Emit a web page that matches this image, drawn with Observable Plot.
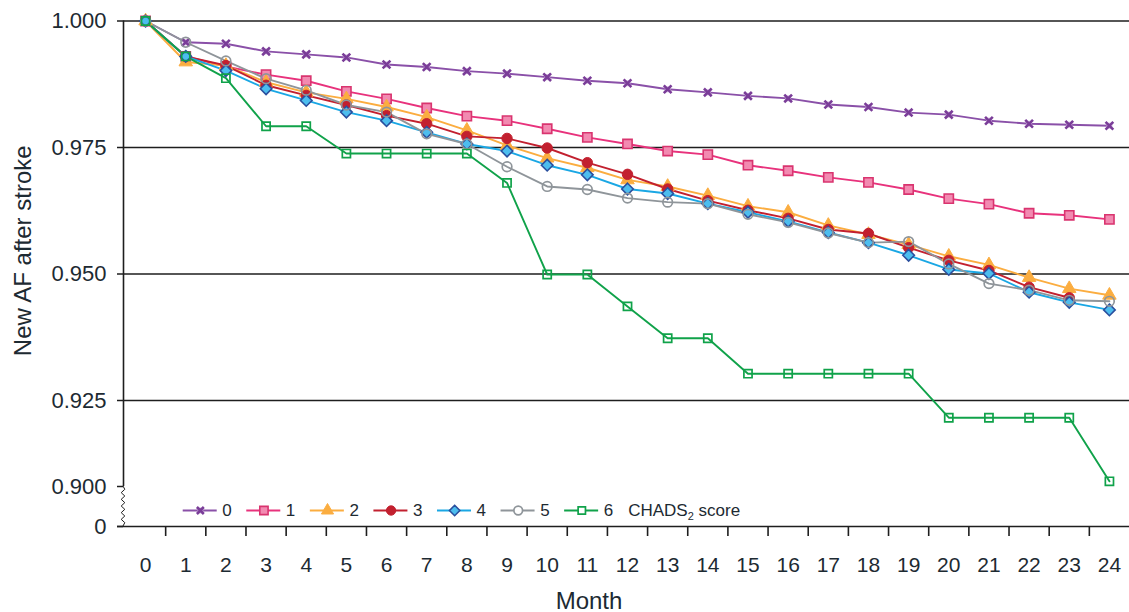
<!DOCTYPE html>
<html>
<head>
<meta charset="utf-8">
<script src="https://cdn.jsdelivr.net/npm/d3@7"></script>
<script src="https://cdn.jsdelivr.net/npm/@observablehq/plot@0.6"></script>
<style>
  body { margin: 0; background: #fff; }
  #chart { position: relative; width: 1129px; height: 612px; font-family: "Liberation Sans", Arial, Helvetica, sans-serif; }
  #legend { position: absolute; left: 0; top: 495px; }
</style>
</head>
<body>
<div id="chart"></div>
<script>
// ---------- data ----------
const months = [0,1,2,3,4,5,6,7,8,9,10,11,12,13,14,15,16,17,18,19,20,21,22,23,24];
const xTickLabels = ["0","1","2","3","4","5","6","7","8","9","10","11","12","13","14","15","16","17","18","19","20","21","22","23","24"];
const yTicks = [0, 0.900, 0.925, 0.950, 0.975, 1.000];
const yTickLabels = ["0", "0.900", "0.925", "0.950", "0.975", "1.000"];
const gridValues = [0.925, 0.950, 0.975, 1.000];
const scoreNames = ["0", "1", "2", "3", "4", "5", "6"];
const legendTitle = "CHADS₂ score";
const xLabel = "Month";
const yLabel = "New AF after stroke";

const score0 = [1.000, 0.9958, 0.9955, 0.9940, 0.9934, 0.9928, 0.9914, 0.9909, 0.9901, 0.9896, 0.9889, 0.9882, 0.9877, 0.9865, 0.9859, 0.9852, 0.9847, 0.9835, 0.9830, 0.9819, 0.9815, 0.9803, 0.9797, 0.9795, 0.9793];
const score1 = [1.000, 0.9930, 0.9910, 0.9894, 0.9882, 0.9861, 0.9846, 0.9828, 0.9812, 0.9803, 0.9787, 0.9770, 0.9757, 0.9743, 0.9736, 0.9715, 0.9704, 0.9691, 0.9681, 0.9667, 0.9649, 0.9638, 0.9620, 0.9616, 0.9608];
const score2 = [1.000, 0.9919, 0.9912, 0.9879, 0.9859, 0.9846, 0.9830, 0.9810, 0.9784, 0.9754, 0.9729, 0.9710, 0.9686, 0.9673, 0.9655, 0.9634, 0.9622, 0.9596, 0.9578, 0.9558, 0.9535, 0.9518, 0.9493, 0.9471, 0.9458];
const score3 = [1.000, 0.9930, 0.9912, 0.9873, 0.9853, 0.9834, 0.9813, 0.9797, 0.9772, 0.9768, 0.9749, 0.9720, 0.9697, 0.9668, 0.9645, 0.9626, 0.9610, 0.9588, 0.9580, 0.9552, 0.9527, 0.9507, 0.9474, 0.9453];
const score4 = [1.000, 0.9930, 0.9902, 0.9866, 0.9843, 0.9820, 0.9803, 0.9780, 0.9757, 0.9743, 0.9715, 0.9696, 0.9668, 0.9659, 0.9639, 0.9622, 0.9604, 0.9582, 0.9562, 0.9537, 0.9509, 0.9501, 0.9464, 0.9444, 0.9429];
const score5 = [1.000, 0.9958, 0.9921, 0.9886, 0.9863, 0.9834, 0.9820, 0.9777, 0.9757, 0.9712, 0.9673, 0.9667, 0.9650, 0.9642, 0.9639, 0.9618, 0.9602, 0.9581, 0.9562, 0.9564, 0.9520, 0.9481, 0.9468, 0.9448, 0.9446];
const score6 = [1.000, 0.9930, 0.9887, 0.9792, 0.9792, 0.9738, 0.9738, 0.9738, 0.9738, 0.9680, 0.9499, 0.9499, 0.9436, 0.9373, 0.9373, 0.9303, 0.9303, 0.9303, 0.9303, 0.9303, 0.9200, 0.9200, 0.9200, 0.9200, 0.9015];
const allScores = [score0, score1, score2, score3, score4, score5, score6];

// ---------- styles ----------
const lineColors  = ["#8a50a8", "#e8327c", "#fbad40", "#c2202f", "#1aa7e4", "#8f959a", "#10a24a"];
const markSymbols = ["times", "square", "triangle", "circle", "diamond2", "circle", "square"];
const markR       = [3.6, 5.2, 5.0, 5.2, 5.2, 4.8, 4.6];
const markFill    = ["none", "#f28ab1", "#fbad40", "#c2202f", "#4cbdee", "none", "none"];
const markStroke  = ["#7a3d98", "#d9346f", "#fbad40", "#c2202f", "#2a4f9e", "#8f959a", "#10a24a"];
const markStrokeW = [2.6, 1.6, 1, 1, 1.6, 1.7, 1.7];
const textColor = "#1d2a32";
const axisColor = "#1e1e1e";

// ---------- layout ----------
const W = 1129, H = 612, mL = 123, mR = 0, mT = 20.5, mB = 86;
// broken axis: 0 → 0.900 squeezed, 0.900 → 0.925 compressed, 0.925 → 1.000 regular
const brokenAxis = d3.scaleLinear()
  .domain([yTicks[0], yTicks[1], yTicks[2], yTicks[yTicks.length - 1]])
  .range([0, 40, 126, 505.5]);
const yDomain = [0, 505.5];
const xDomain = [-0.55, 24.5];
const midTicks = months.slice(1).map(m => m - 0.5);
const yTickPos = yTicks.map(t => brokenAxis(t));

const rows = allScores.flatMap((vals, s) =>
  vals.map((v, i) => ({ month: months[i], value: v, score: scoreNames[s], s })));
const Y = d => brokenAxis(d.value);

function zigzag(index, scales) {
  const x0 = scales.x(xDomain[0]);
  const yA = scales.y(yTickPos[1]), yB = scales.y(yTickPos[0]);
  const n = 12, amp = 1.8;
  const pts = d3.range(n + 1).map(k => [x0 + (k === 0 || k === n ? 0 : (k % 2 ? amp : -amp)), yA + (yB - yA) * k / n]);
  return d3.create("svg:path").attr("d", d3.line()(pts)).attr("fill", "none")
    .attr("stroke", axisColor).attr("stroke-width", 1).node();
}

const seriesMarks = [];
allScores.forEach((vals, s) => {
  const d = rows.filter(r => r.s === s);
  seriesMarks.push(Plot.line(d, { x: "month", y: Y, stroke: lineColors[s], strokeWidth: 1.9 }));
});
allScores.forEach((vals, s) => {
  const d = rows.filter(r => r.s === s);
  if (s === 0) seriesMarks.push(Plot.dot(d, { x: "month", y: Y, symbol: "square", r: 3.4, fill: "#c9a6dc", fillOpacity: 0.75 }));
  seriesMarks.push(Plot.dot(d, { x: "month", y: Y, symbol: markSymbols[s], r: markR[s],
    fill: markFill[s], stroke: markStroke[s], strokeWidth: markStrokeW[s] }));
});

const chart = Plot.plot({
  width: W, height: H,
  marginLeft: mL, marginRight: mR, marginTop: mT, marginBottom: mB,
  style: { fontFamily: "Liberation Sans, Arial, Helvetica, sans-serif", color: textColor, background: "white", overflow: "visible" },
  x: { domain: xDomain },
  y: { domain: yDomain },
  marks: [
    Plot.ruleY(gridValues.map(v => brokenAxis(v)), { stroke: axisColor, strokeWidth: 1.6 }),
    Plot.ruleY([yTickPos[0]], { stroke: axisColor, strokeWidth: 1.6, insetLeft: -6 }),
    Plot.ruleX([xDomain[0]], { y1: yTickPos[1], y2: yTickPos[yTickPos.length - 1], stroke: axisColor, strokeWidth: 1.6 }),
    zigzag,
    Plot.axisY({ ticks: yTickPos, tickFormat: d => yTickLabels[yTickPos.indexOf(d)], tickSize: 6, tickPadding: 11,
      fontSize: 22, label: null, stroke: axisColor, strokeWidth: 1.5 }),
    Plot.axisX({ ticks: months, tickFormat: d => xTickLabels[months.indexOf(d)], tickSize: 0, tickPadding: 31,
      fontSize: 21, label: null }),
    Plot.axisX({ ticks: midTicks, tickFormat: () => "", tickSize: 10, label: null, stroke: axisColor, strokeWidth: 1.6 }),
    ...seriesMarks,
    Plot.text([yLabel], { frameAnchor: "left", textAnchor: "middle", lineAnchor: "middle", rotate: -90, dx: -100, dy: -23, fontSize: 24 }),
    Plot.text([xLabel], { frameAnchor: "bottom", textAnchor: "middle", lineAnchor: "middle", dx: -37.5, dy: 74.5, fontSize: 24 })
  ]
});
document.getElementById("chart").appendChild(chart);

// ---------- legend ----------
const legendItems = scoreNames.map((name, i) => ({ i, name, row: legendTitle }));
const lineLen = 0.535, dotAt = 0.27, textAt = 0.615;
const legendMarks = [];
legendItems.forEach(it => {
  const s = it.i;
  legendMarks.push(Plot.ruleY([it], { y: "row", x1: d => d.i, x2: d => d.i + lineLen, stroke: lineColors[s], strokeWidth: 1.9 }));
  if (s === 0) legendMarks.push(Plot.dot([it], { y: "row", x: d => d.i + dotAt, symbol: "square", r: 3.4, fill: "#c9a6dc", fillOpacity: 0.75 }));
  legendMarks.push(Plot.dot([it], { y: "row", x: d => d.i + dotAt, symbol: markSymbols[s], r: markR[s] * 0.9,
    fill: markFill[s] === "none" ? "white" : markFill[s], stroke: markStroke[s], strokeWidth: markStrokeW[s] }));
});
legendMarks.push(Plot.text(legendItems, { y: "row", x: d => d.i + textAt, text: "name", textAnchor: "start", fontSize: 17 }));
legendMarks.push(Plot.text([legendItems[0]], { y: "row", x: () => scoreNames.length, text: "row", textAnchor: "start", fontSize: 17 }));

const legend = Plot.plot({
  width: W, height: 30,
  marginLeft: 182.7, marginRight: W - 627.7, marginTop: 0, marginBottom: 0,
  style: { fontFamily: "Liberation Sans, Arial, Helvetica, sans-serif", color: textColor, background: "transparent", overflow: "visible" },
  x: { domain: [0, scoreNames.length], axis: null },
  y: { type: "point", domain: [legendTitle], axis: null },
  marks: legendMarks
});
legend.id = "legend";
document.getElementById("chart").appendChild(legend);

// subscript for CHADS₂
legend.querySelectorAll("text").forEach(t => {
  if (t.textContent === legendTitle) {
    t.textContent = "";
    const ns = "http://www.w3.org/2000/svg";
    const a = document.createElementNS(ns, "tspan"); a.textContent = "CHADS";
    const b = document.createElementNS(ns, "tspan"); b.textContent = "2"; b.setAttribute("font-size", "11"); b.setAttribute("dy", "4");
    const c = document.createElementNS(ns, "tspan"); c.textContent = " score"; c.setAttribute("dy", "-4");
    t.append(a, b, c);
  }
});
</script>
</body>
</html>
